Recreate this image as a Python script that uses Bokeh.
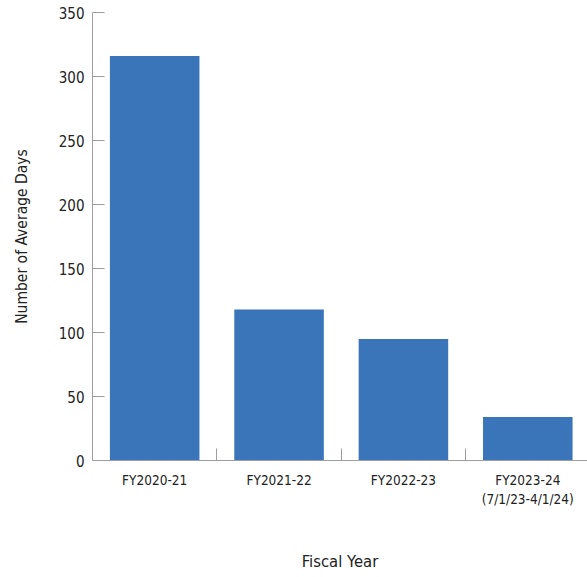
from bokeh.plotting import figure
from bokeh.models import ColumnDataSource, FixedTicker, Range1d
from bokeh.embed import file_html
from bokeh.resources import INLINE

categories = ["FY2020-21", "FY2021-22", "FY2022-23", "FY2023-24\n(7/1/23-4/1/24)"]
avg_days = [316, 118, 95, 34]
y_ticks = [0, 50, 100, 150, 200, 250, 300, 350]

FONT = "'DejaVu Sans Condensed', 'Roboto Condensed', Roboto"
TEXT = "#222222"
AXIS = "#9e9e9e"
BAR = "#3a74b9"

centers = [i + 0.5 for i in range(len(categories))]
bounds = [i + 1 for i in range(len(categories) - 1)]

src = ColumnDataSource(data=dict(x=centers, top=avg_days))

p = figure(width=587, height=577, output_backend="svg", toolbar_location=None,
           x_range=Range1d(0, 3.98), y_range=Range1d(0, 350),
           min_border_left=92, min_border_top=12, min_border_right=0, min_border_bottom=117)
p.outline_line_color = None
p.grid.visible = False
p.background_fill_color = "white"

p.vbar(x="x", top="top", width=0.72, bottom=0, source=src, fill_color=BAR, line_color=None)

xa = p.xaxis[0]
xa.ticker = FixedTicker(ticks=centers, minor_ticks=bounds)
xa.major_label_overrides = {c: lab for c, lab in zip(centers, categories)}
xa.major_tick_line_color = None
xa.minor_tick_in = 12
xa.minor_tick_out = 0
xa.minor_tick_line_color = AXIS
xa.axis_line_color = AXIS
xa.major_label_standoff = 5
xa.major_label_text_font = FONT
xa.major_label_text_font_size = "13.5px"
xa.major_label_text_color = TEXT
xa.axis_label = "Fiscal Year"
xa.axis_label_text_font = FONT
xa.axis_label_text_font_size = "16.5px"
xa.axis_label_text_font_style = "normal"
xa.axis_label_text_color = TEXT
xa.axis_label_standoff = 42

ya = p.yaxis[0]
ya.ticker = FixedTicker(ticks=y_ticks)
ya.major_tick_in = 12
ya.major_tick_out = 0
ya.major_tick_line_color = AXIS
ya.minor_tick_line_color = None
ya.axis_line_color = AXIS
ya.major_label_standoff = 8
ya.major_label_text_font = FONT
ya.major_label_text_font_size = "15px"
ya.major_label_text_color = TEXT
ya.axis_label = "Number of Average Days"
ya.axis_label_text_font = FONT
ya.axis_label_text_font_size = "15.5px"
ya.axis_label_text_font_style = "normal"
ya.axis_label_text_color = TEXT
ya.axis_label_standoff = 25

open("out.html", "w").write(file_html(p, INLINE))
